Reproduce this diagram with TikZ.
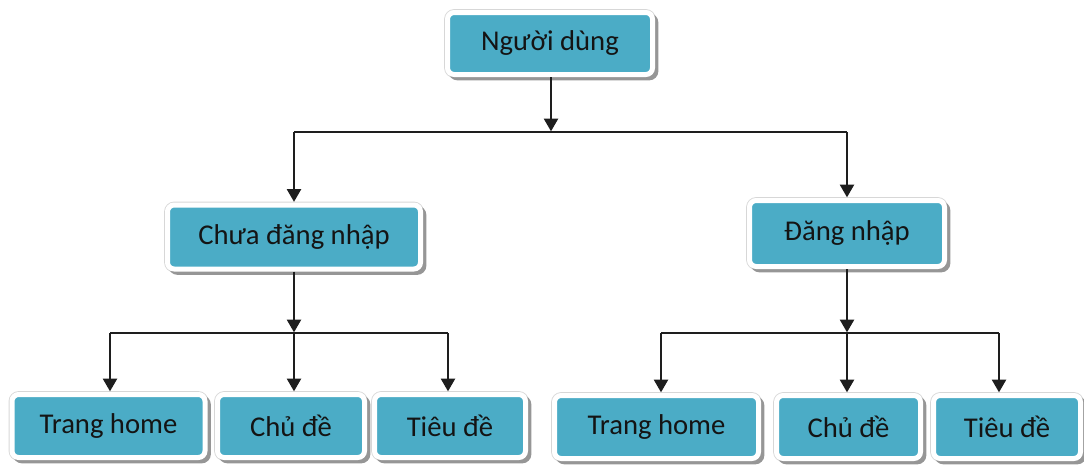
\documentclass[tikz,border=0pt]{standalone}
\usepackage{fontspec}
\setmainfont{Carlito}
\usetikzlibrary{arrows.meta,shadows}
\definecolor{teal5}{RGB}{75,172,198}
\definecolor{frameline}{RGB}{215,215,215}
\definecolor{shadowgrey}{RGB}{150,150,150}
\definecolor{conn}{RGB}{30,30,30}
\begin{document}
\begin{tikzpicture}[x=0.75pt,y=-0.75pt,
  box/.style={rectangle, rounded corners=5pt, fill=teal5, draw=white, line width=3.75pt,
    inner sep=0pt, font=\fontsize{21.5}{24}\selectfont, text=black!92,
    preaction={draw=frameline, line width=5pt},
    copy shadow={shadow xshift=2.5pt, shadow yshift=-2.5pt, fill=shadowgrey, draw=shadowgrey, line width=3.75pt}},
  conn/.style={draw=conn, line width=1.6pt},
  arr/.style={conn, -{Triangle[width=10.5pt,length=9.5pt]}, shorten >=0.5pt}]
\useasboundingbox (0,0) rectangle (1084,465);
\node[box, minimum width=153.75pt, minimum height=46.5pt] (N) at (550,43.5) {Người dùng};
\node[box, minimum width=189.75pt, minimum height=48pt] (C) at (294,237) {Chưa đăng nhập};
\node[box, minimum width=146.25pt, minimum height=49.5pt] (D) at (847,233.5) {Đăng nhập};
\node[box, minimum width=144.75pt, minimum height=47.25pt] (L1) at (108.5,426) {Trang home};
\node[box, minimum width=110.25pt, minimum height=47.25pt] (L2) at (291,426) {Chủ đề};
\node[box, minimum width=113.25pt, minimum height=47.25pt] (L3) at (450,426) {Tiêu đề};
\node[box, minimum width=153pt, minimum height=47.25pt] (R1) at (656.5,427) {Trang home};
\node[box, minimum width=108pt, minimum height=47.25pt] (R2) at (848.5,427) {Chủ đề};
\node[box, minimum width=110.25pt, minimum height=47.25pt] (R3) at (1007,427) {Tiêu đề};
\coordinate (t) at (551,132);
\coordinate (bl) at (294,333);
\coordinate (br) at (847,333);
% top level
\draw[arr] (N.south -| t) -- (t);
\draw[conn] (C.north |- t) -- (D.north |- t);
\draw[arr] (C.north |- t) -- (C.north);
\draw[arr] (D.north |- t) -- (D.north);
% left group
\draw[arr] (C.south) -- (bl);
\draw[conn] (110,333) -- (448,333);
\draw[arr] (110,333) -- (110,392);
\draw[arr] (bl) -- (L2.north -| bl);
\draw[arr] (448,333) -- (448,392);
% right group
\draw[arr] (D.south) -- (br);
\draw[conn] (661,333) -- (999,333);
\draw[arr] (661,333) -- (661,393);
\draw[arr] (br) -- (R2.north -| br);
\draw[arr] (999,333) -- (999,393);
\end{tikzpicture}
\end{document}
